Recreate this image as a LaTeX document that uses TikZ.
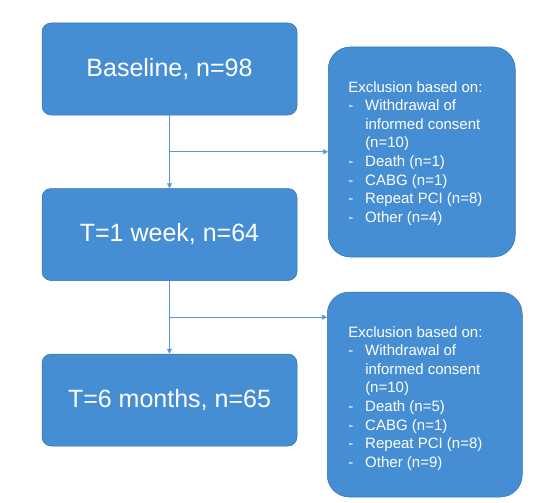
\documentclass[tikz,border=0pt]{standalone}
\usepackage{fontspec}
\setmainfont{Liberation Sans}
\usepackage{xcolor}
\usetikzlibrary{arrows.meta,positioning,calc}
\definecolor{boxblue}{RGB}{70,142,212}
\definecolor{edgeblue}{RGB}{55,112,172}
\definecolor{lineblue}{RGB}{84,152,216}
\tikzset{
  stage/.style={
    rectangle, rounded corners=9pt, draw=edgeblue, fill=boxblue,
    minimum width=255pt, minimum height=92pt,
    font=\fontsize{25}{30}\selectfont, text=white, align=center, line width=0.5pt
  },
  exclbox/.style={
    rectangle, rounded corners=22pt, draw=edgeblue, fill=boxblue,
    font=\fontsize{15}{18.6}\selectfont, text=white, align=left,
    inner sep=0pt, line width=0.5pt
  },
  flow/.style={-{Triangle[length=5pt,width=5pt]}, line width=0.6pt, color=lineblue},
  branch/.style={line width=0.6pt, color=lineblue},
}
\newcommand{\itm}{\makebox[17pt][l]{-}}
\newcommand{\cnt}{\hspace*{17pt}}

\begin{document}
\begin{tikzpicture}[x=1pt, y=1pt, node distance=73pt]
  \useasboundingbox (0,0) rectangle (538,-503);

  % Stages over time
  \node[stage] (base) at (169.5,-69) {Baseline, n=98};
  \node[stage, below=of base] (week) {T=1 week, n=64};
  \node[stage, below=of week] (months) {T=6 months, n=65};

  % Branch points
  \coordinate (b1) at ($(base.south)!0.5!(week.north)$);
  \coordinate (b2) at ($(week.south)!0.5!(months.north)$);

  % Exclusion boxes
  \node[exclbox, minimum width=187pt, minimum height=210pt, anchor=west] (excl1) at (328,-152) {};
  \node[anchor=north west, exclbox, draw=none, fill=none] (excltxt1) at (348,-81) {Exclusion based on:\\
    \itm Withdrawal of\\
    \cnt informed consent\\
    \cnt (n=10)\\
    \itm Death (n=1)\\
    \itm CABG (n=1)\\
    \itm Repeat PCI (n=8)\\
    \itm Other (n=4)};

  \node[exclbox, minimum width=195pt, minimum height=205pt, anchor=west] (excl2) at (327,-394.5) {};
  \node[anchor=north west, exclbox, draw=none, fill=none] (excltxt2) at (348,-326) {Exclusion based on:\\
    \itm Withdrawal of\\
    \cnt informed consent\\
    \cnt (n=10)\\
    \itm Death (n=5)\\
    \itm CABG (n=1)\\
    \itm Repeat PCI (n=8)\\
    \itm Other (n=9)};

  % Connectors
  \draw[flow] (base.south) -- (week.north);
  \draw[flow] (b1) -- (excl1.west |- b1);
  \draw[flow] (week.south) -- (months.north);
  \draw[flow] (b2) -- (excl2.west |- b2);

\end{tikzpicture}
\end{document}
